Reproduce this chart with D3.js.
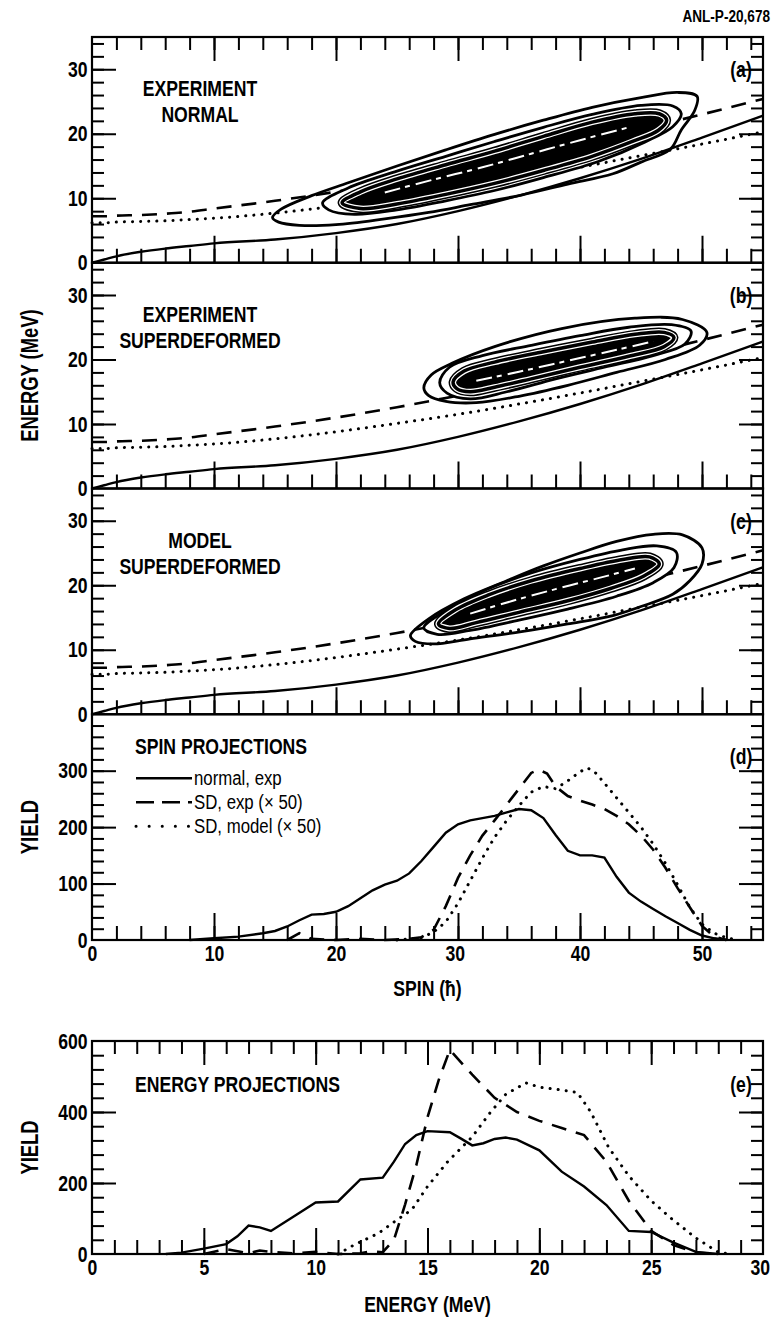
<!DOCTYPE html>
<html>
<head>
<meta charset="utf-8">
<script src="https://cdn.jsdelivr.net/npm/d3@7"></script>
<style>
  body { margin: 0; background: #fff; }
  svg text { font-family: "Liberation Sans", Arial, sans-serif; font-weight: bold; fill: #000; }
</style>
</head>
<body>
<div id="chart"></div>
<script>
// Datos

// lineas de referencia (energia MeV vs spin) - iguales en (a), (b), (c)
const refSpin   = [0, 1, 2, 4, 6, 8, 10, 15, 20, 25, 30, 35, 40, 45, 50, 55];
const refSolid  = [0, 0.5, 1.0, 1.7, 2.2, 2.6, 3.0, 3.6, 4.6, 6.0, 8.0, 10.4, 13.1, 16.1, 19.4, 22.8];
const refDotted = [6.2, 6.2, 6.3, 6.4, 6.5, 6.7, 6.9, 7.7, 8.8, 10.1, 11.5, 13.1, 14.8, 16.6, 18.4, 20.3];
const refDashed = [7.2, 7.2, 7.3, 7.4, 7.6, 7.9, 8.4, 9.6, 11.0, 12.6, 14.4, 16.4, 18.5, 20.7, 23.0, 25.4];

// contornos [spin, energia]
const outerA = [[14.8,7.0],[15.5,8.3],[18,10.4],[21,12.4],[25,15.0],[29,17.5],[33,19.9],[37,22.1],[41,24.1],[45,25.6],[48,26.4],[49.6,25.8],[49.4,23.6],[48.3,20.6],[47.4,17.6],[45,15.6],[42.7,13.8],[39,12.2],[35.2,10.5],[31,9.0],[27.6,7.8],[24,6.8],[20,5.9],[17,5.8],[15.3,6.3]];
const secondA = [[18.9,9.3],[21,11.6],[25,14.2],[29,16.5],[33,18.8],[37,21.0],[41,23.0],[45,24.4],[47.6,24.3],[48.3,23.1],[47.6,21.1],[45.3,18.7],[41.5,15.7],[37,13.2],[33,11.2],[29,9.6],[25,8.2],[21.5,7.5],[19.4,8.2]];
const coreA = [[20.5,9.3],[22,11.0],[25,13.0],[29,15.2],[33,17.3],[37,19.6],[41,21.8],[44.5,23.1],[46.5,23.1],[47.1,22.1],[46.4,20.5],[44.3,18.8],[41,16.5],[37,14.3],[33,12.3],[29,10.6],[25,9.1],[22,8.4]];
const ridgeA = [[24,10.9],[28,12.9],[32,14.8],[36,16.9],[40,19.0],[44,21.0]];

const outerB = [[27.2,15.6],[27.8,17.6],[29.5,19.4],[33,22.0],[38.5,24.8],[44.5,26.4],[48.4,26.2],[50.4,24.2],[49.8,22.2],[47,20.0],[43,18.0],[39,16.0],[35,14.3],[31.5,13.3],[29,13.5],[27.6,14.4]];
const secondB = [[28.5,16.4],[29.3,18.8],[32,20.6],[36,22.2],[40,23.7],[44,25.0],[47.5,25.4],[49.1,24.4],[48.6,22.4],[46,20.6],[42,18.8],[38,17.0],[34,15.0],[31,13.9],[29.1,14.8]];
const coreB = [[29.6,16.5],[30.5,18.2],[33,19.6],[37,21.2],[41,22.7],[44.5,23.9],[46.9,24.2],[47.7,23.4],[46.9,22.0],[44,20.5],[40,18.8],[36,17.0],[33,15.7],[31,15.0],[29.9,15.5]];
const ridgeB = [[31.5,16.7],[35,18.1],[39,19.8],[43,21.5],[46,22.8]];

const outerC = [[26.1,12.2],[27.6,14.8],[30.5,17.9],[34,20.7],[37,23.0],[40,25.0],[43,26.8],[46,27.9],[48.4,27.8],[50,25.8],[50,23.3],[49,20.7],[47.6,18.6],[45,16.7],[42.7,15.3],[39,14.0],[35.2,12.8],[31,11.7],[28,10.9],[26.5,11.3]];
const secondC = [[27.2,13.4],[29.2,16.3],[32.3,19.3],[36,21.9],[40,24.0],[43.5,25.5],[46.3,26.1],[47.9,25.1],[47.7,22.7],[46,20.4],[43,18.3],[39,16.3],[35,14.6],[31,13.0],[28.3,12.4]];
const coreC = [[28.4,14.0],[29.8,16.2],[32.5,18.5],[36,20.7],[40,22.6],[43.5,24.0],[45.7,24.4],[46.5,23.3],[45.2,21.4],[42.5,19.5],[39,17.6],[35,15.8],[31.5,14.2],[29.3,13.3]];
const ridgeC = [[31,15.6],[34.5,17.6],[38,19.4],[41.5,21.1],[44.5,22.6]];

// (d) proyecciones en spin [spin, yield]
const spinNormal = [[8,0],[10,3],[12,6],[14,12],[15,16],[16,24],[17,35],[18,45],[19,46],[20,50],[21,60],[22,74],[23,88],[24,98],[25,105],[26,118],[27,140],[28,165],[29,190],[30,205],[31,212],[32,216],[33,220],[34,226],[35,232],[36,230],[37,216],[38,186],[39,158],[40,150],[41,150],[42,146],[43,112],[44,84],[45,68],[46,55],[47,42],[48,30],[49,18],[50,8],[51,3],[52,0]];
const spinSDexp = [[16,0],[17,12],[18,2],[20,0],[22,2],[24,0],[26,2],[27,5],[28,18],[29,60],[30,110],[31,150],[32,185],[33,212],[34,240],[35,268],[36,296],[36.6,302],[37.3,295],[38,272],[39,255],[40,247],[41,240],[42,232],[43,220],[44,205],[45,185],[46,160],[47,128],[48,92],[49,58],[50,25],[51,6],[52,0]];
const spinSDmodel = [[25,0],[27,4],[28,14],[29,32],[30,65],[31,105],[32,145],[33,182],[34,212],[35,238],[36,262],[37,272],[38,268],[39,282],[40,298],[40.6,305],[41.2,298],[42,278],[43,252],[44,226],[45,200],[46,170],[47,136],[48,98],[49,58],[50,28],[51,12],[52,4],[53,0]];

// (e) proyecciones en energia [MeV, yield]
const enNormal = [[3.3,0],[4,4],[5,15],[6,28],[6.5,50],[7,80],[7.5,75],[8,65],[9,105],[10,145],[11,148],[12,210],[13,215],[13.5,260],[14,310],[14.5,335],[15,346],[16,343],[16.5,325],[17,306],[17.5,312],[18,324],[18.5,328],[19,322],[20,292],[21,232],[22,190],[23,138],[24,65],[25,62],[26,32],[27,6],[28,0]];
const enSDexp = [[5,0],[6,14],[7,2],[7.5,10],[8,6],[9,2],[10,6],[11,0],[12,2],[12.5,8],[13,5],[13.5,40],[14,140],[14.5,250],[15,385],[15.5,490],[16,575],[17,505],[18,440],[19,400],[20,375],[21,355],[22,335],[23,260],[24,150],[25,65],[26,25],[27,4],[28,0]];
const enSDmodel = [[11,0],[11.7,25],[12.8,58],[13.5,90],[14.3,125],[15,190],[15.9,260],[17,330],[17.8,398],[18.5,450],[19.4,482],[20,470],[21,462],[21.7,455],[22.3,400],[23.1,300],[24,220],[25,150],[25.9,100],[27,45],[28,5],[28.5,0]];

const energyTicks = [0, 10, 20, 30];
const spinTicks = [0, 10, 20, 30, 40, 50];
const yieldSpinTicks = [0, 100, 200, 300];
const yieldEnTicks = [0, 200, 400, 600];
const enTicks = [0, 5, 10, 15, 20, 25, 30];

const panelText = [["EXPERIMENT", "NORMAL"], ["EXPERIMENT", "SUPERDEFORMED"], ["MODEL", "SUPERDEFORMED"]];
const panelTag = ["(a)", "(b)", "(c)"];

// Construccion

const WIDTH = 773, HEIGHT = 1324;
const X0 = 92, X1 = 763;
const TOP = 37, PH = 225.75;
const E_TOP = 1041, E_BOT = 1254;
const SQ = 0.8;   // letra estrecha

const svg = d3.select("#chart").append("svg")
    .attr("width", WIDTH).attr("height", HEIGHT);

const xSpin = d3.scaleLinear().domain([0, 55]).range([X0, X1]);
const xEn = d3.scaleLinear().domain([0, 30]).range([X0, X1]);

function ticks(g, axis, len, values) {
    g.call(axis.tickValues(values).tickSize(len).tickFormat(""));
    g.select(".domain").remove();
    g.selectAll(".tick line").attr("stroke", "#000").attr("stroke-width", 2);
}

function labels(g, axis, values, pad) {
    g.call(axis.tickValues(values).tickSize(0).tickPadding(pad))
        .attr("font-family", null).attr("font-size", 22);
    g.select(".domain").remove();
    g.selectAll("text").attr("transform", `scale(${SQ},1)`);
}

function txt(x, y, s, size, anchor, weight) {
    return svg.append("text")
        .attr("transform", `translate(${x},${y}) scale(${SQ},1)`)
        .attr("text-anchor", anchor || "start")
        .attr("font-size", size)
        .style("font-weight", weight || "bold")
        .text(s);
}

function frame(y0, y1) {
    svg.append("rect")
        .attr("x", X0).attr("y", y0)
        .attr("width", X1 - X0).attr("height", y1 - y0)
        .attr("fill", "none").attr("stroke", "#000").attr("stroke-width", 2.2);
}

function drawLine(data, x, y, style, curve) {
    const line = d3.line().x(d => x(d[0])).y(d => y(d[1])).curve(curve || d3.curveLinear);
    const p = svg.append("path").attr("d", line(data))
        .attr("fill", "none").attr("stroke", "#000").attr("stroke-width", 2.4);
    if (style == "dash") p.attr("stroke-dasharray", "15,10").attr("stroke-width", 2.6);
    if (style == "dot") p.attr("stroke-dasharray", "0.1,8").attr("stroke-linecap", "round").attr("stroke-width", 3);
    return p;
}

// paneles de contornos (a), (b), (c)
const contorno = [
    [outerA, secondA, coreA, ridgeA],
    [outerB, secondB, coreB, ridgeB],
    [outerC, secondC, coreC, ridgeC],
];

contorno.forEach((c, i) => {
    const y0 = TOP + i * PH, y1 = y0 + PH;
    const yE = d3.scaleLinear().domain([0, 35]).range([y1, y0]);
    const closed = d3.line().x(d => xSpin(d[0])).y(d => yE(d[1])).curve(d3.curveCatmullRomClosed.alpha(0.5));
    const open = d3.line().x(d => xSpin(d[0])).y(d => yE(d[1])).curve(d3.curveCatmullRom.alpha(0.5));

    // referencias
    const refS = refSpin.map((s, k) => [s, refSolid[k]]);
    const refD = refSpin.map((s, k) => [s, refDashed[k]]);
    const refP = refSpin.map((s, k) => [s, refDotted[k]]);
    drawLine(refP, xSpin, yE, "dot", d3.curveMonotoneX);
    drawLine(refD, xSpin, yE, "dash", d3.curveMonotoneX);
    drawLine(refS, xSpin, yE, "solid", d3.curveMonotoneX);

    svg.append("path").attr("d", closed(c[0]))
        .attr("fill", "none").attr("stroke", "#000").attr("stroke-width", 2.8);
    svg.append("path").attr("d", closed(c[1]))
        .attr("fill", "#fff").attr("stroke", "#000").attr("stroke-width", 2.8);
    // nucleo: varios contornos muy juntos
    svg.append("path").attr("d", closed(c[2])).attr("fill", "#000");
    [[9, "#000"], [6, "#fff"], [3.5, "#000"]].forEach(s => {
        svg.append("path").attr("d", closed(c[2]))
            .attr("fill", "none").attr("stroke", s[1]).attr("stroke-width", s[0]);
    });
    svg.append("path").attr("d", open(c[3]))
        .attr("fill", "none").attr("stroke", "#fff").attr("stroke-width", 2)
        .attr("stroke-dasharray", "16,5,5,6");

    // ejes
    ticks(svg.append("g").attr("transform", `translate(0,${y1})`), d3.axisBottom(xSpin), -14, d3.range(2, 55, 2));
    ticks(svg.append("g").attr("transform", `translate(0,${y1})`), d3.axisBottom(xSpin), -27, [10, 20, 30, 40, 50]);
    if (i == 0) {
        ticks(svg.append("g").attr("transform", `translate(0,${y0})`), d3.axisTop(xSpin), -13, d3.range(2, 55, 2));
        ticks(svg.append("g").attr("transform", `translate(0,${y0})`), d3.axisTop(xSpin), -24, [10, 20, 30, 40, 50]);
    }
    ticks(svg.append("g").attr("transform", `translate(${X0},0)`), d3.axisLeft(yE), -12, d3.range(2, 35, 2));
    ticks(svg.append("g").attr("transform", `translate(${X0},0)`), d3.axisLeft(yE), -24, [10, 20, 30]);
    ticks(svg.append("g").attr("transform", `translate(${X1},0)`), d3.axisRight(yE), -12, d3.range(2, 35, 2));
    ticks(svg.append("g").attr("transform", `translate(${X1},0)`), d3.axisRight(yE), -24, [10, 20, 30]);
    labels(svg.append("g").attr("transform", `translate(${X0 - 2},0)`), d3.axisLeft(yE), energyTicks, 3);
    frame(y0, y1);

    txt(200, y0 + 59, panelText[i][0], 22, "middle");
    txt(200, y0 + 85, panelText[i][1], 22, "middle");
    txt(741, yE(30) + 8, panelTag[i], 22, "middle");
});

// panel (d)
const dTop = TOP + 3 * PH, dBot = dTop + PH;
const yD = d3.scaleLinear().domain([0, 400]).range([dBot, dTop]);
drawLine(spinSDmodel, xSpin, yD, "dot");
drawLine(spinSDexp, xSpin, yD, "dash");
drawLine(spinNormal, xSpin, yD, "solid");
ticks(svg.append("g").attr("transform", `translate(0,${dBot})`), d3.axisBottom(xSpin), -14, d3.range(2, 55, 2));
ticks(svg.append("g").attr("transform", `translate(0,${dBot})`), d3.axisBottom(xSpin), -27, [10, 20, 30, 40, 50]);
ticks(svg.append("g").attr("transform", `translate(${X0},0)`), d3.axisLeft(yD), -12, d3.range(20, 400, 20));
ticks(svg.append("g").attr("transform", `translate(${X0},0)`), d3.axisLeft(yD), -24, [100, 200, 300]);
ticks(svg.append("g").attr("transform", `translate(${X1},0)`), d3.axisRight(yD), -12, d3.range(20, 400, 20));
ticks(svg.append("g").attr("transform", `translate(${X1},0)`), d3.axisRight(yD), -24, [100, 200, 300]);
labels(svg.append("g").attr("transform", `translate(${X0 - 2},0)`), d3.axisLeft(yD), yieldSpinTicks, 3);
labels(svg.append("g").attr("transform", `translate(0,${dBot + 1})`), d3.axisBottom(xSpin), spinTicks, 4);
frame(dTop, dBot);

txt(135, dTop + 40, "SPIN  PROJECTIONS", 22);
txt(741, dTop + 50, "(d)", 22, "middle");

const legend = [
    ["solid", "normal, exp"],
    ["dash", "SD, exp (\u00d7 50)"],
    ["dot", "SD, model (\u00d7 50)"],
];
legend.forEach((l, k) => {
    const yy = dTop + 64 + k * 24;
    const p = svg.append("line").attr("x1", 136).attr("x2", 192).attr("y1", yy).attr("y2", yy)
        .attr("stroke", "#000").attr("stroke-width", 2.4);
    if (l[0] == "dash") p.attr("stroke-dasharray", "18,8");
    if (l[0] == "dot") p.attr("stroke-dasharray", "0.1,13").attr("stroke-linecap", "round").attr("stroke-width", 3);
    txt(194, yy + 7, l[1], 21, "start", "normal");
});

txt((X0 + X1) / 2, dBot + 56, "SPIN (\u0127)", 22, "middle");

// panel (e)
const yEn = d3.scaleLinear().domain([0, 600]).range([E_BOT, E_TOP]);
drawLine(enSDmodel, xEn, yEn, "dot");
drawLine(enSDexp, xEn, yEn, "dash");
drawLine(enNormal, xEn, yEn, "solid");
ticks(svg.append("g").attr("transform", `translate(0,${E_BOT})`), d3.axisBottom(xEn), -14, d3.range(1, 30, 1));
ticks(svg.append("g").attr("transform", `translate(0,${E_BOT})`), d3.axisBottom(xEn), -26, [5, 10, 15, 20, 25]);
ticks(svg.append("g").attr("transform", `translate(0,${E_TOP})`), d3.axisTop(xEn), -13, d3.range(1, 30, 1));
ticks(svg.append("g").attr("transform", `translate(0,${E_TOP})`), d3.axisTop(xEn), -24, [5, 10, 15, 20, 25]);
ticks(svg.append("g").attr("transform", `translate(${X0},0)`), d3.axisLeft(yEn), -12, d3.range(40, 600, 40));
ticks(svg.append("g").attr("transform", `translate(${X0},0)`), d3.axisLeft(yEn), -24, [200, 400]);
ticks(svg.append("g").attr("transform", `translate(${X1},0)`), d3.axisRight(yEn), -12, d3.range(40, 600, 40));
ticks(svg.append("g").attr("transform", `translate(${X1},0)`), d3.axisRight(yEn), -24, [200, 400]);
labels(svg.append("g").attr("transform", `translate(${X0 - 2},0)`), d3.axisLeft(yEn), yieldEnTicks, 3);
labels(svg.append("g").attr("transform", `translate(0,${E_BOT + 1})`), d3.axisBottom(xEn), enTicks, 4);
frame(E_TOP, E_BOT);
// la etiqueta 30 queda dentro de la ventana
svg.selectAll("g.tick text").filter(function () { return this.textContent == "30" && this.getAttribute("dy") == "0.71em"; })
    .attr("x", -4);

txt(135, E_TOP + 51, "ENERGY  PROJECTIONS", 22);
txt(741, E_TOP + 51, "(e)", 22, "middle");

txt((X0 + X1) / 2, E_BOT + 58, "ENERGY  (MeV)", 22, "middle");

// titulos verticales
svg.append("text").attr("transform", `translate(38,${TOP + 1.5 * PH}) rotate(-90) scale(${SQ},1)`)
    .attr("text-anchor", "middle").attr("font-size", 23).text("ENERGY  (MeV)");
svg.append("text").attr("transform", `translate(38,${(dTop + dBot) / 2}) rotate(-90) scale(${SQ},1)`)
    .attr("text-anchor", "middle").attr("font-size", 23).text("YIELD");
svg.append("text").attr("transform", `translate(38,${(E_TOP + E_BOT) / 2}) rotate(-90) scale(${SQ},1)`)
    .attr("text-anchor", "middle").attr("font-size", 23).text("YIELD");

txt(770, 22, "ANL-P-20,678", 17, "end");
</script>
</body>
</html>
